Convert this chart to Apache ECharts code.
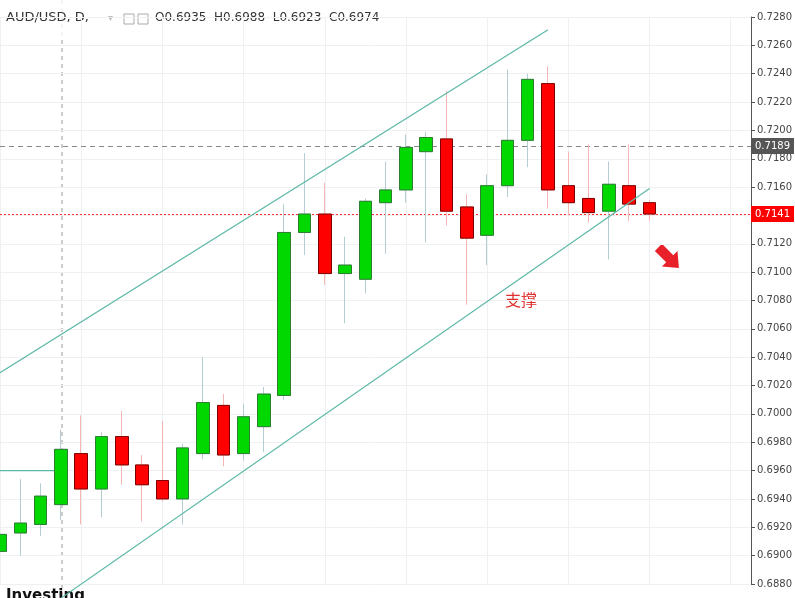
<!DOCTYPE html><html><head><meta charset="utf-8">
<script src="https://cdn.jsdelivr.net/npm/echarts@6/dist/echarts.min.js"></script>
<style>html,body{margin:0;padding:0;background:#fff}#c{width:795px;height:598px}</style></head><body><div id="c"></div>
<script>
const opens  = [0.6903,0.6916,0.6922,0.6936,0.6972,0.6947,0.6984,0.6964,0.6953,0.6940,0.6972,0.7006,0.6972,0.6991,0.7013,0.7128,0.7141,0.7099,0.7095,0.7149,0.7158,0.7185,0.7194,0.7146,0.7126,0.7161,0.7193,0.7233,0.7161,0.7152,0.7143,0.7161,0.7149];
const closes = [0.6915,0.6923,0.6942,0.6975,0.6947,0.6984,0.6964,0.6950,0.6940,0.6976,0.7008,0.6971,0.6998,0.7014,0.7128,0.7141,0.7099,0.7105,0.7150,0.7158,0.7188,0.7195,0.7143,0.7124,0.7161,0.7193,0.7236,0.7158,0.7149,0.7142,0.7162,0.7148,0.7141];
const lows   = [0.6870,0.6900,0.6914,0.6925,0.6922,0.6927,0.6950,0.6924,0.6938,0.6922,0.6968,0.6963,0.6967,0.6973,0.7010,0.7112,0.7091,0.7064,0.7085,0.7113,0.7149,0.7121,0.7133,0.7077,0.7105,0.7153,0.7174,0.7145,0.7140,0.7135,0.7109,0.7136,0.7136];
const highs  = [0.6945,0.6954,0.6951,0.6989,0.6999,0.6987,0.7002,0.6971,0.6995,0.6979,0.7040,0.7014,0.7007,0.7019,0.7148,0.7184,0.7163,0.7125,0.7152,0.7178,0.7197,0.7199,0.7228,0.7155,0.7169,0.7243,0.7240,0.7245,0.7185,0.7190,0.7178,0.7190,0.7151];
const extraSlots = 5;
const upperChannel = [[0,0.7029],[27,0.7271]];
const lowerChannel = [[3,0.6870],[32,0.7159]];
const oldLevel = [[0,0.6960],[3,0.6960]];
const yTicks = {min:0.688,max:0.728,interval:0.002};
const lastPrice = 0.7141, prevLevel = 0.7189;

const n = opens.length + extraSlots;
const cats = Array.from({length:n},(_,i)=>String(i));
const full = opens.map((o,i)=>[o,closes[i],lows[i],highs[i]]);
const bodies = opens.map((o,i)=>[o,closes[i],Math.min(o,closes[i]),Math.max(o,closes[i])]);
const teal = '#5cb8a6';
const lvlLabel = bg => ({position:'end',distance:0,backgroundColor:bg,color:'#fff',padding:[3,4,3,4],fontSize:10,fontFamily:'DejaVu Sans'});
const chart = echarts.init(document.getElementById('c'));
chart.setOption({
  animation:false,
  grid:{left:0,right:40,top:17,bottom:14},
  xAxis:{type:'category',data:cats,boundaryGap:false,axisLine:{show:false},axisTick:{show:false},axisLabel:{show:false},
    splitLine:{show:true,interval:3,lineStyle:{color:'#eef0f2'}}},
  yAxis:{type:'value',position:'right',min:yTicks.min,max:yTicks.max,interval:yTicks.interval,
    axisLine:{show:true,lineStyle:{color:'#555'}},axisTick:{show:true,length:4,lineStyle:{color:'#555'}},
    axisLabel:{color:'#444',fontSize:10,fontFamily:'DejaVu Sans',formatter:v=>v.toFixed(4),margin:6},
    splitLine:{lineStyle:{color:'#eef0f2'}}},
  series:[
    {type:'candlestick',data:full,barWidth:13,clip:false,
     itemStyle:{color:'#00d800',color0:'#ff0000',borderColor:'#b5cdd2',borderColor0:'#f5b5b5',borderWidth:1}},
    {type:'candlestick',data:bodies,barWidth:13,clip:false,z:3,
     itemStyle:{color:'#00d800',color0:'#ff0000',borderColor:'#2e7d32',borderColor0:'#7a0000',borderWidth:1}},
    {type:'line',data:upperChannel,symbol:'none',clip:false,lineStyle:{color:teal,width:1.2},z:4},
    {type:'line',data:lowerChannel,symbol:'none',clip:false,lineStyle:{color:teal,width:1.2},z:4},
    {type:'line',data:oldLevel,symbol:'none',lineStyle:{color:teal,width:1.2},
     markLine:{symbol:'none',silent:true,precision:4,z:1,data:[
       {yAxis:prevLevel,lineStyle:{color:'#888',type:[5,4],width:1},label:Object.assign(lvlLabel('#555'),{formatter:prevLevel.toFixed(4)})},
       {yAxis:lastPrice,lineStyle:{color:'#ff3030',type:[2,2],width:1},label:Object.assign(lvlLabel('#ff0000'),{formatter:lastPrice.toFixed(4)})}
     ]}}
  ],
  graphic:[
    {type:'line',shape:{x1:62,y1:0,x2:62,y2:598},style:{stroke:'#999',lineDash:[4,4]}},
    {type:'rect',shape:{x:0,y:0,width:300,height:40},style:{fill:'rgba(255,255,255,0.8)'}},
    {type:'text',left:6,top:11,style:{text:'AUD/USD, D,',fill:'#333',font:'13px "DejaVu Sans"'}},
    {type:'text',left:108,top:13,style:{text:'▾',fill:'#bbb',font:'10px "DejaVu Sans"'}},
    {type:'rect',shape:{x:124,y:14,width:10,height:10},style:{fill:'none',stroke:'#aaa'}},
    {type:'rect',shape:{x:138,y:14,width:10,height:10},style:{fill:'none',stroke:'#aaa'}},
    {type:'text',left:155,top:12,style:{text:'O0.6935  H0.6988  L0.6923  C0.6974',fill:'#333',font:'12px "DejaVu Sans"'}},
    {type:'text',left:505,top:292,style:{text:'支撑',fill:'#e03030',font:'16px "Noto Sans CJK SC"'}},
    {type:'polygon',x:669,y:258,rotation:-Math.PI/4,shape:{points:[[-15,-5],[1,-5],[1,-11],[14,0],[1,11],[1,5],[-15,5]]},style:{fill:'#e8202a'}},
    {type:'text',left:6,top:589,style:{text:'Investing',fill:'#111',font:'bold 15px "DejaVu Sans"'}}
  ]
});
</script></body></html>
